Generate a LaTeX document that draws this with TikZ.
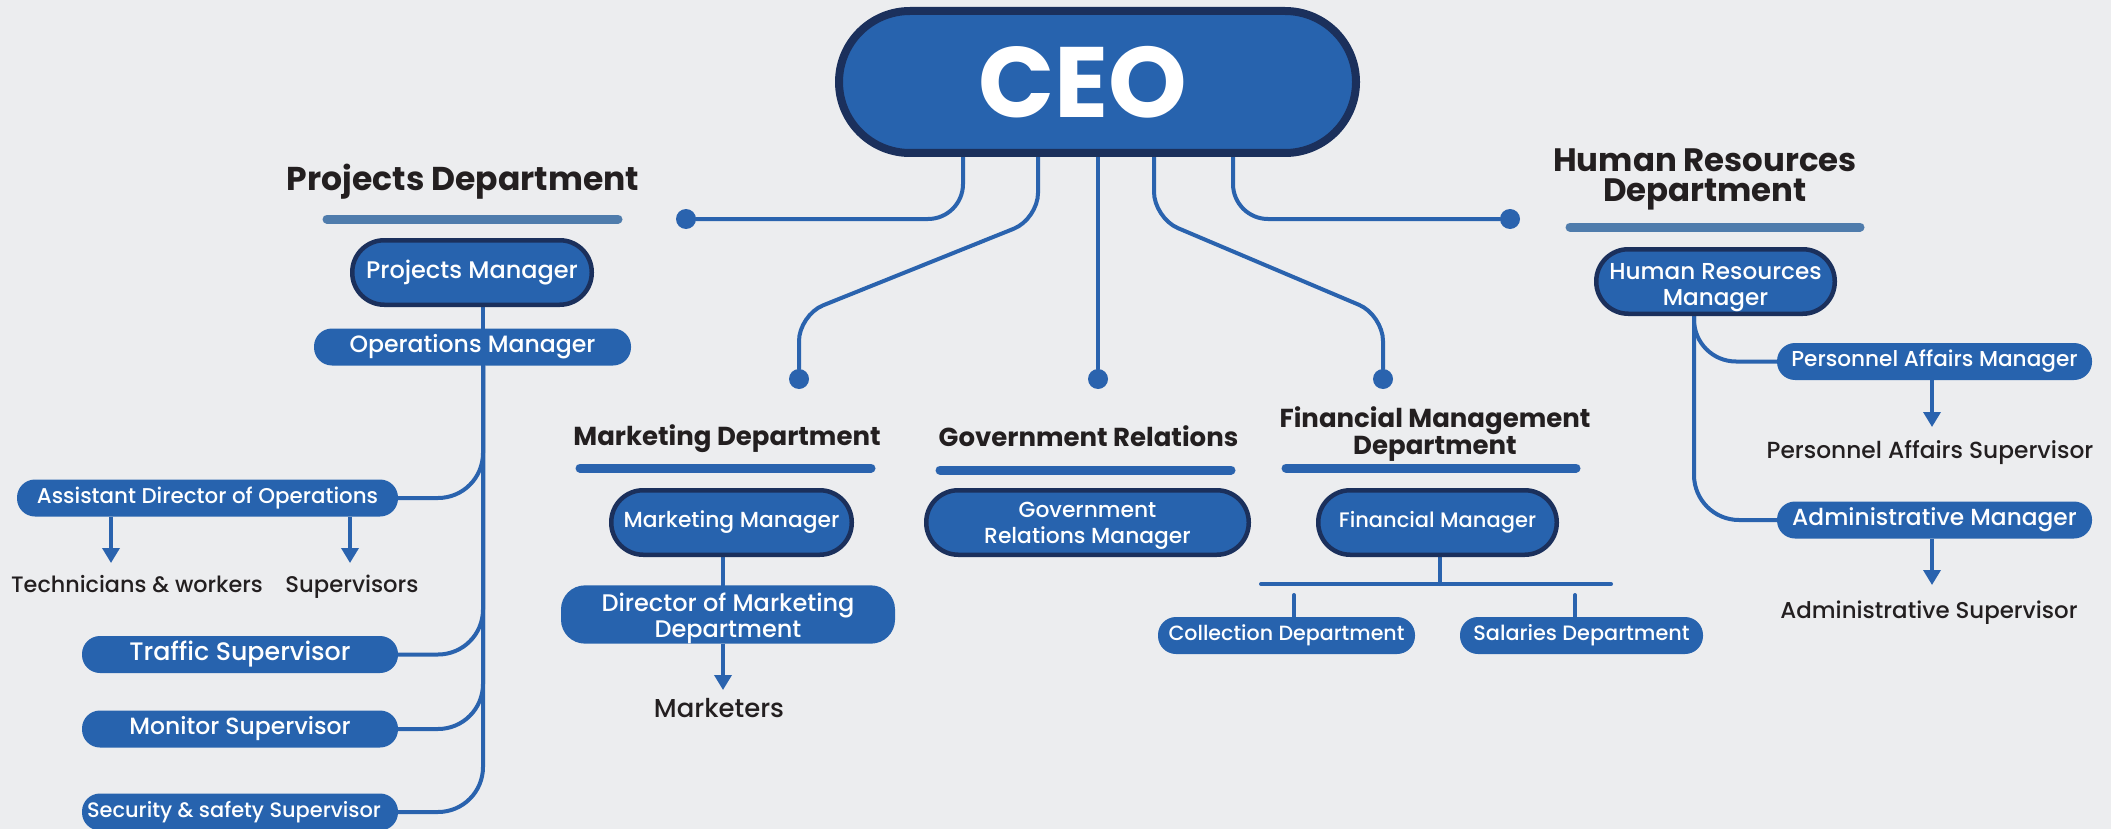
\documentclass[tikz,border=0pt]{standalone}
\usepackage{fontspec}
\setmainfont{Poppins}
\newfontfamily\medfont{Poppins Medium}
\usetikzlibrary{arrows.meta,calc}
\definecolor{bgc}{HTML}{ECEDEF}
\definecolor{boxblue}{HTML}{2763AE}
\definecolor{navy}{HTML}{1B305C}
\definecolor{lineblue}{HTML}{2A63AE}
\definecolor{steel}{HTML}{4F7CAC}
\definecolor{ink}{HTML}{231F20}
\newcommand\fsz[1]{\medfont\fontsize{#1}{26}\selectfont}
\pgfdeclarelayer{paper}
\pgfdeclarelayer{back}
\pgfsetlayers{paper,back,main}
\begin{document}
\begin{tikzpicture}[x=1pt,y=-1pt,
  conn/.style={draw=lineblue, line width=4pt, line cap=round},
  arr/.style={draw=lineblue, line width=3.5pt, -{Triangle[width=17pt,length=15pt]}},
  bigbox/.style={draw=navy, line width=4.5pt, fill=boxblue, rounded corners=32pt, minimum height=64.5pt, text=white, inner sep=0pt, align=center},
  smallbox/.style={fill=boxblue, rounded corners=18pt, minimum height=37pt, text=white, inner sep=0pt, align=center},
  bigtitle/.style={text=ink, font=\bfseries\fontsize{32.4}{30}\selectfont, align=center, inner sep=0pt},
  midtitle/.style={text=ink, font=\bfseries\fontsize{26}{27}\selectfont, align=center, inner sep=0pt},
  plain/.style={text=ink, inner sep=0pt},
  bar/.style={line width=9pt, line cap=round, draw=lineblue},
  dot/.style={circle, fill=lineblue, minimum size=20pt, inner sep=0pt}
]
\begin{pgfonlayer}{paper}
\fill[bgc] (0,0) rectangle (2111,829);
\end{pgfonlayer}
\useasboundingbox (0,0) rectangle (2111,829);

% CEO
\node[draw=navy, line width=8pt, fill=boxblue, rounded corners=71pt, minimum width=517pt, minimum height=142pt, inner sep=0pt, text=white, font=\bfseries\fontsize{100}{100}\selectfont] (ceo) at (1097.5,82) {CEO\hspace*{30pt}};

\node[dot] (d1) at (686,219) {};
\node[dot] (d2) at (799,379) {};
\node[dot] (d3) at (1098,379) {};
\node[dot] (d4) at (1383,379) {};
\node[dot] (d5) at (1510,219) {};
\coordinate (c1) at (963,0);
\coordinate (c2) at (1038,0);
\coordinate (c4) at (1154,0);
\coordinate (c5) at (1233,0);
\coordinate (k2a) at (1038,219);
\coordinate (k2b) at (799,315);
\coordinate (k4a) at (1154,218);
\coordinate (k4b) at (1383,315);

% Projects
\node[bigtitle, font=\bfseries\fontsize{33}{30}\selectfont, anchor=base] (tproj) at (463,191) {Projects Department};
\draw[bar, draw=steel] (327,219) -- (618,219);
\node[bigbox, minimum width=239.5pt, font=\fsz{24}] (pm) at (472,272.5) {Projects Manager};
\node[smallbox, minimum width=317pt, font=\fsz{23.6}] (om) at (472.5,347) {Operations Manager};
\coordinate (spine) at (483,366);
\node[smallbox, minimum width=381pt, font=\fsz{21.4}] (ad) at (207.5,498) {Assistant Director of Operations};
\coordinate (a1) at (111,563);
\coordinate (a2) at (350,563);
\node[plain, anchor=base, font=\fsz{22.3}] (tw) at (137,592) {Technicians \& workers};
\node[plain, anchor=base, font=\fsz{22.7}] (sv) at (352,592) {Supervisors};
\node[smallbox, minimum width=316pt, font=\fsz{25.3}] (ts) at (240,654.5) {Traffic Supervisor};
\node[smallbox, minimum width=316pt, font=\fsz{23.5}] (ms) at (240,729) {Monitor Supervisor};
\node[smallbox, minimum width=316pt, font=\fsz{20.9}] (ss) at (240,812) {Security \& safety Supervisor\hspace*{12pt}};

% Marketing
\node[midtitle, anchor=base] (tmk) at (727,445) {Marketing Department};
\draw[bar] (580,468) -- (871,468);
\node[bigbox, minimum width=240.5pt, font=\fsz{21.8}] (mm) at (731.5,522.5) {Marketing Manager};
\node[smallbox, minimum width=334pt, minimum height=57pt, rounded corners=24pt, font=\fsz{24}] (dm) at (728,614.5) {\rule{0pt}{26pt}Director of Marketing\\Department};
\coordinate (mx) at (723,0);
\coordinate (m1) at (723,690);
\node[plain, anchor=base, font=\fsz{25.9}] (mk) at (719,717) {Marketers};

% Government
\node[midtitle, anchor=base] (tgov) at (1088.5,446) {Government Relations};
\draw[bar] (940,470) -- (1231,470);
\node[bigbox, minimum width=322.5pt, font=\fsz{21.8}] (gm) at (1087.5,522.5) {\rule{0pt}{21pt}Government\\Relations Manager};

% Financial
\node[midtitle] (tfin) at (1435,434) {Financial Management\\Department};
\draw[bar] (1286,468) -- (1576,468);
\node[bigbox, minimum width=238.5pt, font=\fsz{21}] (fm) at (1437.5,522.5) {Financial Manager};
\coordinate (fj) at (1440,584);
\coordinate (fl) at (1261,584);
\coordinate (fr) at (1611,584);
\coordinate (fd1) at (1294,595);
\coordinate (fd2) at (1575,595);
\node[smallbox, minimum width=257pt, font=\fsz{20.6}] (cd) at (1286.5,635.5) {Collection Department};
\node[smallbox, minimum width=243pt, font=\fsz{20.8}] (sd) at (1581.5,635.5) {Salaries Department};

% HR
\node[bigtitle] (thr) at (1705,179) {Human Resources\\Department};
\draw[bar, draw=steel] (1570,227) -- (1860,227);
\node[bigbox, minimum width=238.5pt, font=\fsz{23.1}] (hrm) at (1715.5,281.5) {\rule{0pt}{29pt}Human Resources\\Manager};
\coordinate (hspine) at (1694,0);
\node[smallbox, minimum width=315pt, font=\fsz{21.6}] (pam) at (1934.5,361.5) {Personnel Affairs Manager};
\node[smallbox, minimum width=315pt, font=\fsz{23.3}] (am) at (1934.5,520) {Administrative Manager};
\coordinate (h1) at (1932,427);
\coordinate (h2) at (1932,585);
\node[plain, anchor=base, font=\fsz{23.3}] (pas) at (1930,458) {Personnel Affairs Supervisor};
\node[plain, anchor=base, font=\fsz{22.9}] (as) at (1929,618) {Administrative Supervisor};

\begin{pgfonlayer}{back}
  \draw[conn, rounded corners=35pt] (ceo.south -| c1) |- (d1);
  \draw[conn, rounded corners=35pt] (ceo.south -| c5) |- (d5);
  \draw[conn, rounded corners=26pt] (ceo.south -| c2) -- (k2a) -- (k2b) -- (d2);
  \draw[conn] (ceo.south -| d3) -- (d3);
  \draw[conn, rounded corners=26pt] (ceo.south -| c4) -- (k4a) -- (k4b) -- (d4);

  \draw[conn] (pm.south -| spine) -- (om.north -| spine);
  \draw[conn, rounded corners=45pt] (om.south -| spine) |- (ad.east);
  \draw[conn, rounded corners=45pt] (om.south -| spine) |- (ts.east);
  \draw[conn, rounded corners=45pt] (om.south -| spine) |- (ms.east);
  \draw[conn, rounded corners=45pt] (om.south -| spine) |- (ss.east);
  \draw[arr] (ad.south -| a1) -- (a1);
  \draw[arr] (ad.south -| a2) -- (a2);

  \draw[conn] (mm.south -| mx) -- (dm.north -| mx);
  \draw[arr] (dm.south -| m1) -- (m1);

  \draw[conn] (fm.south -| fj) -- (fj);
  \draw[conn] (fl) -- (fr);
  \draw[conn] (cd.north -| fd1) -- (fd1);
  \draw[conn] (sd.north -| fd2) -- (fd2);

  \draw[conn, rounded corners=42pt] (hrm.south -| hspine) |- (pam.west);
  \draw[conn, rounded corners=45pt] (hrm.south -| hspine) |- (am.west);
  \draw[arr] (pam.south -| h1) -- (h1);
  \draw[arr] (am.south -| h2) -- (h2);
\end{pgfonlayer}
\end{tikzpicture}
\end{document}
